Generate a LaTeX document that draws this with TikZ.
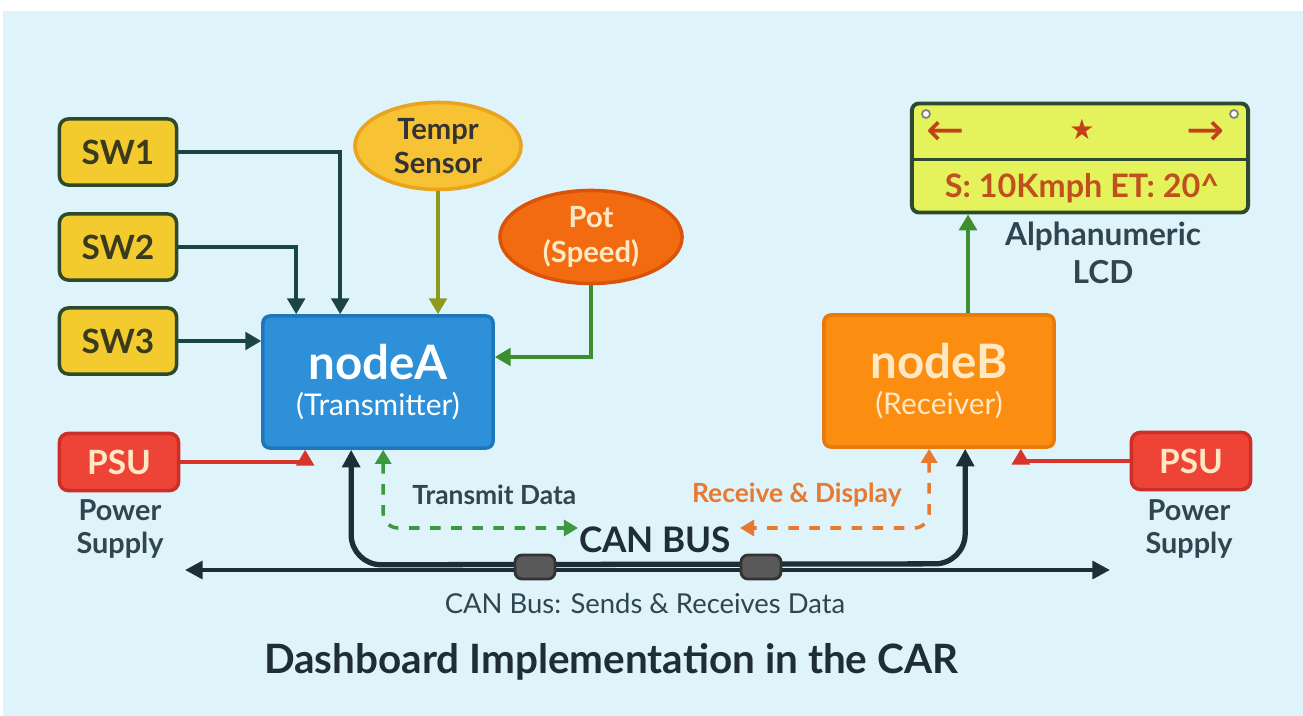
\documentclass[tikz,border=0pt]{standalone}
\usepackage{fontspec}
\setmainfont{Lato}
\newfontfamily\symfont{DejaVu Sans}
\usetikzlibrary{arrows.meta,calc,shapes.geometric}

\definecolor{bgblue}{HTML}{DEF3FA}
\definecolor{swfill}{HTML}{F3CB2E}
\definecolor{swedge}{HTML}{2D4A2A}
\definecolor{swtext}{HTML}{3A3A1C}
\definecolor{swline}{HTML}{1B4444}
\definecolor{tmpfill}{HTML}{F7C233}
\definecolor{tmpedge}{HTML}{EBA21C}
\definecolor{tmpline}{HTML}{8E9A1E}
\definecolor{potfill}{HTML}{F26B10}
\definecolor{potedge}{HTML}{D9540A}
\definecolor{cream}{HTML}{FFE9C4}
\definecolor{greenline}{HTML}{3E8E2E}
\definecolor{afill}{HTML}{2E90D8}
\definecolor{aedge}{HTML}{1F77BB}
\definecolor{bfill}{HTML}{FB8D10}
\definecolor{bedge}{HTML}{E9790A}
\definecolor{psufill}{HTML}{EE4438}
\definecolor{psuedge}{HTML}{CC2F28}
\definecolor{redline}{HTML}{D8342C}
\definecolor{lcdfill}{HTML}{E4F35C}
\definecolor{lcdedge}{HTML}{2E4A2E}
\definecolor{lcdtext}{HTML}{C0501E}
\definecolor{lcdsym}{HTML}{C2401A}
\definecolor{busdark}{HTML}{1E2D38}
\definecolor{labeltext}{HTML}{2F4550}
\definecolor{txgreen}{HTML}{3C9A3C}
\definecolor{rxorange}{HTML}{E8792E}

\tikzset{
  swbox/.style={draw=swedge, fill=swfill, line width=1pt, rounded corners=2.5pt,
    minimum width=1.17cm, minimum height=0.66cm, text=swtext,
    font=\fontsize{9.5}{11}\selectfont\bfseries},
  psubox/.style={draw=psuedge, fill=psufill, line width=1pt, rounded corners=2.5pt,
    minimum width=1.19cm, minimum height=0.57cm, text=cream,
    font=\fontsize{9.5}{11}\selectfont\bfseries},
  ecubox/.style={line width=1pt, rounded corners=2pt, minimum width=2.3cm,
    minimum height=1.32cm, align=center},
  sensor/.style={ellipse, line width=1pt, inner sep=0pt, align=center,
    font=\fontsize{8.3}{9.8}\selectfont\bfseries},
  caption/.style={text=labeltext, align=center, font=\fontsize{8.2}{9.6}\selectfont\bfseries},
  tip/.style={-{Triangle[length=4.5pt,width=5pt]}},
  swwire/.style={draw=swline, line width=1pt, tip},
  blob/.style={draw=black!80, fill=black!65, rounded corners=2pt,
    minimum width=0.4cm, minimum height=0.24cm, line width=0.8pt},
}

\begin{document}
\begin{tikzpicture}[x=0.01cm, y=-0.01cm]

\useasboundingbox (0,0) rectangle (1303,716);
\fill[white] (0,0) rectangle (1303,716);
\fill[bgblue] (3,11) rectangle (1303,716);

% inputs
\node[swbox] (sw1) at (118,152) {SW1};
\node[swbox] (sw2) at (118,247) {SW2};
\node[swbox] (sw3) at (118,341) {SW3};
\node[sensor, draw=tmpedge, fill=tmpfill, text=black!80, minimum width=1.66cm, minimum height=0.87cm] (tempr) at (438,146) {Tempr\\Sensor};
\node[sensor, draw=potedge, fill=potfill, text=cream, minimum width=1.82cm, minimum height=0.93cm] (pot) at (591,237) {Pot\\(Speed)};

% ECUs
\node[ecubox, draw=aedge, fill=afill, text=white] (nodeA) at (378,382)
  {{\fontsize{13.5}{15}\selectfont\bfseries nodeA}\\[-2pt]{\fontsize{8.5}{10}\selectfont (Transmitter)}};
\node[ecubox, draw=bedge, fill=bfill, text=cream] (nodeB) at (939,381)
  {{\fontsize{13.5}{15}\selectfont\bfseries nodeB}\\[-2pt]{\fontsize{8.5}{10}\selectfont (Receiver)}};

% power
\node[psubox] (psuL) at (119,462) {PSU};
\node[psubox] (psuR) at (1191,461) {PSU};
\node[caption] (pwrL) at (120,529) {Power\\Supply};
\node[caption] (pwrR) at (1189,529) {Power\\Supply};

% display
\node[draw=lcdedge, fill=lcdfill, line width=1.1pt, rounded corners=2pt,
  minimum width=3.36cm, minimum height=1.09cm] (lcd) at (1080,158) {};
\draw[lcdedge, line width=1.1pt] ($(lcd.north west)+(0,58)$) -- ($(lcd.north east)+(0,58)$);
\node[text=lcdsym, font=\symfont\fontsize{13}{14}\selectfont] (larrow) at (946,133) {←};
\node[text=lcdsym, font=\symfont\fontsize{8}{9}\selectfont] (star) at (1082,129) {★};
\node[text=lcdsym, font=\symfont\fontsize{13}{14}\selectfont] (rarrow) at (1206,133) {→};
\draw[gray, fill=white, line width=0.5pt] (926,114) circle (0.04cm);
\draw[gray, fill=white, line width=0.5pt] (1234,114) circle (0.04cm);
\node[text=lcdtext, font=\fontsize{9.2}{11}\selectfont\bfseries] (lcdline) at (1082,188) {S: 10Kmph ET: 20\^{}};
\node[caption, font=\fontsize{9}{11}\selectfont\bfseries] (lcdname) at (1103,253) {Alphanumeric\\LCD};

% input wires
\draw[swwire] (sw1.east) -| ($(nodeA.north west)+(79,0)$);
\draw[swwire] (sw2.east) -| ($(nodeA.north west)+(35,0)$);
\draw[swwire] (sw3.east) -- (sw3.east -| nodeA.west);
\draw[draw=tmpline, line width=1pt, tip] (tempr.south) -- (tempr.south |- nodeA.north);
\draw[draw=greenline, line width=1pt, tip] (pot.south) |- ($(nodeA.east)+(0,-25)$);
\draw[draw=redline, line width=1pt, tip] (psuL.east) -| ($(nodeA.south west)+(44,0)$);
\draw[draw=redline, line width=1pt, tip] (psuR.west) -| ($(nodeB.south east)+(-35,0)$);
\coordinate (lcdIn) at ($(nodeB.north)+(29,0)$);
\draw[draw=greenline, line width=1.1pt, tip] (lcdIn) -- (lcdIn |- lcd.south);

% CAN bus
\coordinate (busL) at (185,570);
\coordinate (busR) at (1110,570);
\coordinate (txEnd) at (578,528);
\coordinate (rxEnd) at (740,528);
\draw[busdark, line width=1.2pt, {Triangle[length=5pt,width=5pt]}-{Triangle[length=5pt,width=5pt]}] (busL) -- (busR);
\draw[busdark, line width=1.5pt, rounded corners=0.3cm, {Triangle[length=5pt,width=5pt]}-{Triangle[length=5pt,width=5pt]}]
  ($(nodeA.south west)+(90,0)$) -- ++(0,115) -- ($(nodeB.south west)+(143,115)$) -- ($(nodeB.south west)+(143,0)$);
\draw[txgreen, line width=1pt, dashed, rounded corners=0.15cm, {Triangle[length=4pt,width=4.5pt]}-{Triangle[length=4pt,width=4.5pt]}]
  ($(nodeA.south west)+(122,0)$) |- (txEnd);
\draw[rxorange, line width=1pt, dashed, rounded corners=0.15cm, {Triangle[length=4pt,width=4.5pt]}-{Triangle[length=4pt,width=4.5pt]}]
  ($(nodeB.south west)+(107,0)$) |- (rxEnd);
\node[blob] (tap1) at (535,567) {};
\node[blob] (tap2) at (761,567) {};

\node[text=labeltext, anchor=west, font=\fontsize{7.5}{9}\selectfont\bfseries] (txlabel) at (400,495) {Transmit Data};
\node[text=rxorange, anchor=east, font=\fontsize{7.5}{9}\selectfont\bfseries] (rxlabel) at (914,495) {Receive \& Display};
\node[text=busdark, font=\fontsize{10}{12}\selectfont\bfseries] (canbus) at (655,540) {CAN BUS};
\node[text=labeltext, font=\fontsize{7.8}{9}\selectfont] (busnote) at (645,604) {CAN Bus: Sends \& Receives Data};

\node[text=busdark, font=\fontsize{11.5}{13}\selectfont\bfseries] (title) at (611,662) {Dashboard Implementation in the CAR};

\end{tikzpicture}
\end{document}
